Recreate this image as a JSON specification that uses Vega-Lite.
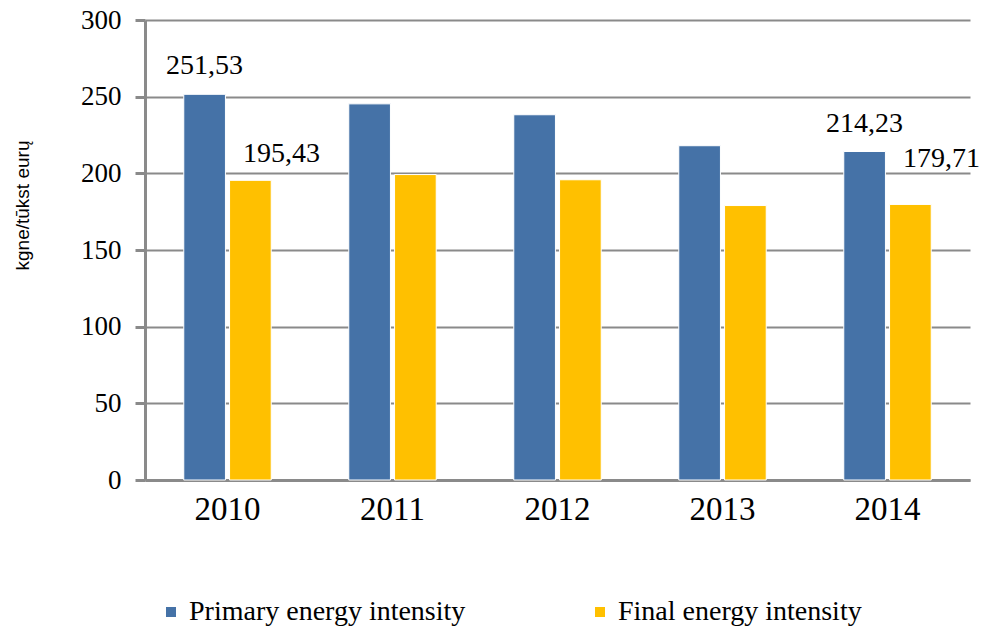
{
  "$schema": "https://vega.github.io/schema/vega-lite/v6.json",
  "autosize": {"type": "none"},
  "width": 825,
  "height": 460,
  "padding": {"left": 145, "top": 20, "right": 26, "bottom": 148},
  "background": "white",
  "config": {"view": {"stroke": null}},
  "data": {"values": [
    {"year": "2010", "series": "Primary energy intensity", "value": 251.53, "label": "251,53"},
    {"year": "2010", "series": "Final energy intensity", "value": 195.43, "label": "195,43"},
    {"year": "2011", "series": "Primary energy intensity", "value": 245.3, "label": ""},
    {"year": "2011", "series": "Final energy intensity", "value": 199.2, "label": ""},
    {"year": "2012", "series": "Primary energy intensity", "value": 238.2, "label": ""},
    {"year": "2012", "series": "Final energy intensity", "value": 195.8, "label": ""},
    {"year": "2013", "series": "Primary energy intensity", "value": 218.0, "label": ""},
    {"year": "2013", "series": "Final energy intensity", "value": 179.0, "label": ""},
    {"year": "2014", "series": "Primary energy intensity", "value": 214.23, "label": "214,23"},
    {"year": "2014", "series": "Final energy intensity", "value": 179.71, "label": "179,71"}
  ]},
  "encoding": {
    "x": {"field": "year", "type": "nominal",
      "scale": {"paddingInner": 0.47, "paddingOuter": 0.235},
      "axis": {"title": null, "labelAngle": 0, "labelFont": "Liberation Serif", "labelFontSize": 33, "labelColor": "#000", "labelPadding": 13, "ticks": false, "domainColor": "#8a8a8a", "domainWidth": 3, "grid": false}},
    "xOffset": {"field": "series", "type": "nominal", "sort": ["Primary energy intensity", "Final energy intensity"], "scale": {"paddingInner": 0.09}},
    "y": {"field": "value", "type": "quantitative",
      "scale": {"domain": [0, 300], "nice": false},
      "axis": {"values": [0, 50, 100, 150, 200, 250, 300], "title": "kgne/tūkst eurų", "titleFont": "Liberation Sans Narrow, Liberation Sans", "titleFontSize": 19, "titleFontWeight": "normal", "titleColor": "#000", "titleX": -123, "titleY": 185, "titleAngle": 270, "titleBaseline": "middle", "titleAlign": "center",
        "labelFont": "Liberation Serif", "labelFontSize": 27, "labelColor": "#000", "labelPadding": 14,
        "tickColor": "#8a8a8a", "tickWidth": 3, "tickSize": 10, "domainColor": "#8a8a8a", "domainWidth": 3,
        "gridColor": "#8a8a8a", "gridWidth": 2}}
  },
  "layer": [
    {"mark": {"type": "bar", "stroke": "white", "strokeWidth": 1},
      "encoding": {"color": {"field": "series", "type": "nominal", "sort": ["Primary energy intensity", "Final energy intensity"],
        "scale": {"domain": ["Primary energy intensity", "Final energy intensity"], "range": ["#4572A7", "#FFC000"]},
        "legend": {"title": null, "orient": "none", "legendX": 12, "legendY": 578, "direction": "horizontal", "symbolType": "square", "symbolSize": 100, "symbolStrokeWidth": 0, "labelFont": "Liberation Serif", "labelFontSize": 28, "labelColor": "#000", "labelLimit": 500, "columnPadding": 120, "symbolOffset": 0, "labelOffset": 4}}}},
    {"transform": [{"filter": "datum.series === 'Primary energy intensity' && datum.label !== ''"}],
      "mark": {"type": "text", "font": "Liberation Serif", "fontSize": 28, "color": "#000", "dy": -28, "baseline": "middle"},
      "encoding": {"text": {"field": "label"}}},
    {"transform": [{"filter": "datum.series === 'Final energy intensity' && datum.year === '2010'"}],
      "mark": {"type": "text", "font": "Liberation Serif", "fontSize": 28, "color": "#000", "dx": 31, "dy": -26, "baseline": "middle"},
      "encoding": {"text": {"field": "label"}}},
    {"transform": [{"filter": "datum.series === 'Final energy intensity' && datum.year === '2014'"}],
      "mark": {"type": "text", "font": "Liberation Serif", "fontSize": 28, "color": "#000", "dx": 31, "dy": -45, "baseline": "middle"},
      "encoding": {"text": {"field": "label"}}}
  ]
}
